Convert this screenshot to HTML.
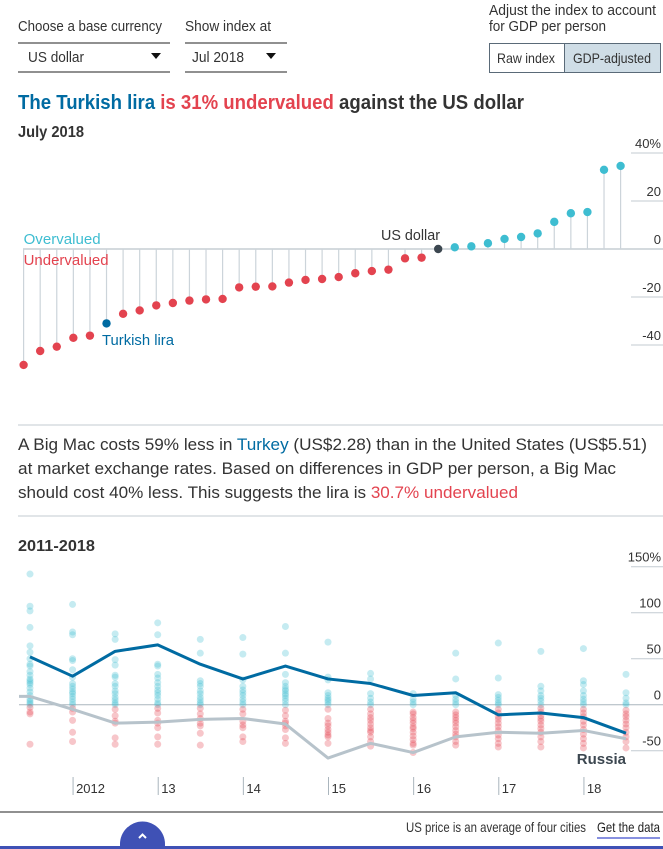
<!DOCTYPE html>
<html><head><meta charset="utf-8">
<style>
body{margin:0;background:#fff;width:663px;height:849px;overflow:hidden}
svg{display:block;font-family:"Liberation Sans Narrow","Liberation Sans",sans-serif}
</style></head>
<body>
<svg id="s" width="663" height="849" viewBox="0 0 663 849">
<g fill="#333" font-size="15">
 <text x="18" y="31" textLength="144" lengthAdjust="spacingAndGlyphs">Choose a base currency</text>
 <text x="185" y="31" textLength="86" lengthAdjust="spacingAndGlyphs">Show index at</text>
 <g>
  <line x1="18" y1="43" x2="170" y2="43" stroke="#222"/><line x1="18" y1="72" x2="170" y2="72" stroke="#222"/>
  <text x="28" y="62" font-size="15" textLength="56" lengthAdjust="spacingAndGlyphs">US dollar</text>
  <path d="M151 53h10l-5 6z" fill="#111"/>
 </g>
 <g>
  <line x1="185" y1="43" x2="287" y2="43" stroke="#222"/><line x1="185" y1="72" x2="287" y2="72" stroke="#222"/>
  <text x="192" y="62" font-size="15" textLength="52" lengthAdjust="spacingAndGlyphs">Jul 2018</text>
  <path d="M266 53h10l-5 6z" fill="#111"/>
 </g>
 <text x="489" y="15" textLength="167" lengthAdjust="spacingAndGlyphs">Adjust the index to account</text>
 <text x="489" y="31" textLength="117" lengthAdjust="spacingAndGlyphs">for GDP per person</text>
 <g>
  <rect x="489.5" y="43.5" width="75" height="29" fill="#fff" stroke="#5a6a78"/>
  <text x="497" y="63" font-size="14" textLength="58" lengthAdjust="spacingAndGlyphs">Raw index</text>
 </g>
 <g>
  <rect x="564.5" y="43.5" width="96" height="29" fill="#cfdde6" stroke="#5a6a78"/>
  <text x="573" y="63" font-size="14" textLength="78" lengthAdjust="spacingAndGlyphs">GDP-adjusted</text>
 </g>
</g>
<text x="18" y="109" font-size="20" font-weight="bold" font-family="Liberation Sans, sans-serif" textLength="506" lengthAdjust="spacingAndGlyphs"><tspan fill="#006ba2">The Turkish lira </tspan><tspan fill="#e3434f">is 31% undervalued </tspan><tspan fill="#333">against the US dollar</tspan></text>
<text x="18" y="137" font-size="16" font-weight="bold" fill="#333" textLength="66" lengthAdjust="spacingAndGlyphs">July 2018</text>
<g id="topchart"></g>
<line x1="18" y1="425" x2="663" y2="425" stroke="#c3cbd2"/>
<g font-family="Liberation Sans Narrow, Liberation Sans, sans-serif" font-size="17" fill="#333">
 <text x="18" y="450" textLength="629" lengthAdjust="spacingAndGlyphs">A Big Mac costs 59% less in <tspan fill="#006ba2">Turkey</tspan> (US$2.28) than in the United States (US$5.51)</text>
 <text x="18" y="474" textLength="598" lengthAdjust="spacingAndGlyphs">at market exchange rates. Based on differences in GDP per person, a Big Mac</text>
 <text x="18" y="498" textLength="500" lengthAdjust="spacingAndGlyphs">should cost 40% less. This suggests the lira is <tspan fill="#e3434f">30.7% undervalued</tspan></text>
</g>
<line x1="18" y1="516" x2="663" y2="516" stroke="#c3cbd2"/>
<text x="18" y="551" font-size="16" font-weight="bold" fill="#333" textLength="77" lengthAdjust="spacingAndGlyphs">2011-2018</text>
<g id="botchart"></g>
<line x1="0" y1="812" x2="663" y2="812" stroke="#222"/>
<text x="406" y="832" font-size="14" fill="#333" textLength="180" lengthAdjust="spacingAndGlyphs">US price is an average of four cities</text>
<g>
 <text x="597" y="832" font-size="14" fill="#222" textLength="63" lengthAdjust="spacingAndGlyphs">Get the data</text>
 <line x1="597" y1="838" x2="660" y2="838" stroke="#8790e0" stroke-width="2"/>
</g>
<rect x="0" y="846" width="663" height="3" fill="#3f51b5"/>
<g>
 <path d="M120 849v-5a22 22 0 0 1 45 0v5z" fill="#3f51b5"/>
 <path d="M139 838l3.5-3.5 3.5 3.5" stroke="#fff" stroke-width="2" fill="none"/>
</g>
</svg>
<script>
const NS="http://www.w3.org/2000/svg";
// top chart data (sorted, % valuation vs USD)
const topValues=[-48.3,-42.5,-40.7,-37,-36.1,-31,-27,-25.6,-23.5,-22.5,-21.5,-21,-20.8,-16,-15.7,-15.6,-14,-12.9,-12.5,-11.7,-10.1,-9.2,-8.6,-3.9,-3.6,0,0.7,1.1,2.4,4.2,5,6.5,11.3,14.9,15.4,33,34.6];
const topHighlightTurkey=5;
const topHighlightUS=25;
const topTicks=[40,20,0,-20,-40];
const topTickLabels=["40%","20","0","-20","-40"];
// bottom chart data
const periods=["Jul 2011","Jan 2012","Jul 2012","Jan 2013","Jul 2013","Jan 2014","Jul 2014","Jan 2015","Jul 2015","Jan 2016","Jul 2016","Jan 2017","Jul 2017","Jan 2018","Jul 2018"];
const turkeySeries=[52,31,58,65,44,28,42,28,23,10,13,-11,-9,-14,-31];
const russiaSeries=[9,-5,-20,-19,-16,-15,-21,-58,-42,-52,-35,-30,-31,-28,-37];
const russiaStart=9;
const scatterCols=[
[142,107,102,84,64,57,50,44,42,36,32,28,26,24,22,18,14,10,6,4,2,0,-3,-8,-10,-43],
[109,79,76,50,48,38,30,23,20,17,14,12,9,6,3,0,-4,-8,-17,-30,-40],
[77,71,49,43,32,30,23,20,15,12,8,5,2,0,-5,-12,-18,-20,-36,-43],
[89,76,44,42,33,29,24,20,16,13,10,6,2,0,-4,-9,-17,-20,-25,-35,-43],
[71,56,26,23,20,15,12,8,5,2,0,-4,-10,-15,-20,-23,-31,-44],
[73,55,27,20,16,13,10,6,3,0,-5,-10,-18,-22,-25,-35,-40],
[85,56,33,24,20,17,15,12,10,7,4,0,-6,-12,-18,-20,-23,-27,-36,-42],
[68,30,27,13,10,7,5,3,0,-5,-15,-20,-23,-27,-30,-33,-35,-42],
[34,28,12,7,3,0,-5,-10,-14,-17,-21,-25,-28,-30,-35,-40,-45],
[12,6,3,0,-8,-10,-14,-17,-20,-24,-26,-30,-34,-38,-42,-44,-52],
[56,28,10,6,3,0,-8,-11,-14,-17,-20,-24,-28,-32,-35,-40,-44],
[67,29,11,8,5,2,0,-5,-9,-13,-16,-20,-24,-28,-33,-37,-42,-46],
[58,20,15,10,7,4,0,-4,-8,-12,-15,-18,-22,-26,-30,-35,-40,-46],
[61,26,22,15,10,6,3,0,-5,-9,-13,-18,-22,-27,-32,-37,-42,-47],
[33,13,7,2,0,-6,-10,-13,-17,-21,-25,-30,-35,-40,-47]
];
const botTicks=[150,100,50,0,-50];
const botTickLabels=["150%","100","50","0","-50"];
const yearTicks=["2012","13","14","15","16","17","18"];
const yearTickIdx=[1,3,5,7,9,11,13];

function el(tag,attrs,parent){const e=document.createElementNS(NS,tag);for(const k in attrs)e.setAttribute(k,attrs[k]);parent.appendChild(e);return e;}
const xTop=i=>23.6+i*(597/(topValues.length-1));
const yTop=v=>249-v*2.4;
const topG=document.getElementById('topchart');
topTicks.forEach((t,i)=>{
  if(t!==0){const g=el('line',{x1:631,x2:663,y1:yTop(t),y2:yTop(t),stroke:'#c3cbd2'},topG);
  
  }
  const tx=el('text',{x:661,y:yTop(t)-5,'text-anchor':'end','font-size':13,fill:'#333'},topG);
  tx.textContent=topTickLabels[i];
  
  
});
const zl=el('line',{x1:23,x2:663,y1:yTop(0),y2:yTop(0),stroke:'#aab5bd'},topG);


topValues.forEach((v,i)=>{
  const x=xTop(i);
  const st=el('line',{x1:x,x2:x,y1:yTop(0),y2:yTop(v),stroke:'#ccd4da','stroke-width':1.2},topG);
  
  
});
topValues.forEach((v,i)=>{
  let c=v<0?'#e3434f':'#3ebdd1';
  if(i===topHighlightTurkey)c='#006ba2';
  if(i===topHighlightUS)c='#3c4750';
  const d=el('circle',{cx:xTop(i),cy:yTop(v),r:4.2,fill:c},topG);
  
  
});
function lbl(t,x,y,fill,anchor,w,name){const e=el('text',{x:x,y:y,fill:fill,'font-size':15,'text-anchor':anchor||'start',textLength:w,lengthAdjust:'spacingAndGlyphs'},topG);e.textContent=t;

return e;}
lbl('Overvalued',23.6,244,'#3ebdd1','start',77,'overvalued-label');
lbl('Undervalued',23.6,265,'#e3434f','start',85,'undervalued-label');
lbl('Turkish lira',102,345,'#006ba2','start',72,'turkish-lira-label');
lbl('US dollar',440,240,'#333','end',59,'us-dollar-label');

const botG=document.getElementById('botchart');
const xB=i=>30+i*(596/(periods.length-1));
const yB=v=>704.7-v*0.92;
botTicks.forEach((t,i)=>{
  if(t!==0){const g=el('line',{x1:631,x2:663,y1:yB(t),y2:yB(t),stroke:'#c3cbd2'},botG);
  
  }
  const tx=el('text',{x:661,y:yB(t)-5,'text-anchor':'end','font-size':13,fill:'#333'},botG);
  tx.textContent=botTickLabels[i];
  
  
});
const bz=el('line',{x1:19,x2:663,y1:yB(0),y2:yB(0),stroke:'#aab5bd'},botG);


scatterCols.forEach((col,i)=>{col.forEach(v=>{
  const d=el('circle',{cx:xB(i),cy:yB(v),r:3.5,fill:v<0?'#e3434f':'#3ebdd1','fill-opacity':0.3},botG);
  
  
});});
const rp=[[19,yB(russiaStart)]].concat(russiaSeries.map((v,i)=>[xB(i),yB(v)]));
const rl=el('polyline',{points:rp.map(p=>p.join(',')).join(' '),fill:'none',stroke:'#b7c3cb','stroke-width':3,'stroke-linejoin':'round'},botG);


const tl=el('polyline',{points:turkeySeries.map((v,i)=>xB(i)+','+yB(v)).join(' '),fill:'none',stroke:'#006ba2','stroke-width':3,'stroke-linejoin':'round'},botG);


const rlab=el('text',{x:xB(periods.length-1),y:764,'text-anchor':'end','font-size':15,'font-weight':'bold',fill:'#3c4750'},botG);
rlab.textContent='Russia';


yearTicks.forEach((t,k)=>{
  const x=xB(yearTickIdx[k])+0.5;
  const tk=el('line',{x1:x,x2:x,y1:777,y2:795,stroke:'#aab5bd'},botG);
  
  
  const tx=el('text',{x:x+3,y:793,'font-size':13,fill:'#333'},botG);
  tx.textContent=t;
  
  
});
</script>
</body></html>
